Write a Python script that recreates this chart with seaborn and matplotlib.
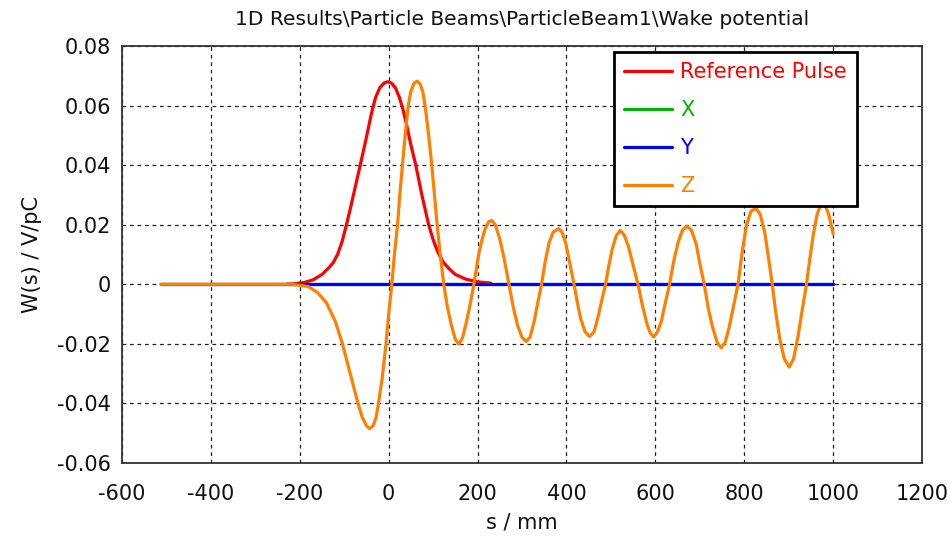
import matplotlib
matplotlib.use("Agg")
import matplotlib.pyplot as plt
import seaborn as sns
import pandas as pd

# ---------------- data ----------------
s_ref = [-230, -210, -190, -170, -150, -135, -125, -115, -105, -95, -85, -75,
         -64, -52, -40, -30, -20, -10, -2, 6, 15, 24, 32, 39, 50, 61, 74, 82,
         90, 100, 110, 122, 136, 150, 174, 200, 230]
w_ref = [0.0, 0.0002, 0.0006, 0.0015, 0.0033, 0.0055, 0.0072, 0.0100, 0.0142,
         0.0200, 0.0262, 0.0328, 0.0400, 0.0480, 0.0565, 0.0625, 0.0660,
         0.0676, 0.0680, 0.0676, 0.0660, 0.0628, 0.0588, 0.0545, 0.0468,
         0.0400, 0.0305, 0.0252, 0.0200, 0.0150, 0.0110, 0.0076, 0.0052,
         0.0033, 0.0017, 0.0008, 0.0004]

s_xy = [-513, 1000]
w_x = [0.0, 0.0]
w_y = [0.0, 0.0]

s_z = [-513, -300, -220, -200, -180, -160, -140, -120, -104, -90, -80, -69, -60,
       -50, -43, -35, -28, -23, -15, -6, 0, 7, 13, 20, 25, 31, 37, 44, 50, 57,
       64, 71, 77, 82, 90, 97, 103, 109, 116, 124, 132, 141, 150, 158, 166,
       175, 183, 190, 196, 202, 210, 217, 225, 232, 240, 250, 260, 270, 280,
       290, 300, 309, 318, 327, 335, 344, 352, 361, 370, 382, 390, 398, 407,
       417, 425, 432, 442, 452, 462, 472, 480, 488, 495, 503, 512, 521, 530,
       539, 550, 561, 570, 580, 588, 596, 604, 613, 622, 632, 641, 651, 661,
       671, 681, 692, 700, 710, 719, 729, 739, 748, 757, 766, 775, 786, 795,
       805, 815, 826, 836, 846, 854, 863, 871, 880, 890, 901, 911, 921, 930,
       940, 947, 955, 964, 974, 982, 990, 1000]
w_z = [0.0, 0.0, 0.0, -0.0003, -0.0008, -0.0028, -0.0062, -0.0125, -0.020,
       -0.028, -0.0337, -0.040, -0.0445, -0.0475, -0.0485, -0.0475, -0.0445,
       -0.040, -0.032, -0.020, -0.010, 0.0, 0.010, 0.020, 0.030, 0.040, 0.050,
       0.060, 0.0648, 0.0675, 0.0682, 0.0672, 0.0645, 0.060, 0.050, 0.040,
       0.030, 0.020, 0.010, 0.0, -0.0075, -0.0137, -0.0185, -0.0201, -0.0180,
       -0.0126, -0.007, -0.0014, 0.004, 0.0097, 0.015, 0.0186, 0.021, 0.0214,
       0.020, 0.0152, 0.0085, 0.0005, -0.0075, -0.0138, -0.0178, -0.0192,
       -0.0178, -0.0127, -0.0065, 0.0, 0.0075, 0.014, 0.0175, 0.0187, 0.0175,
       0.014, 0.0075, 0.0, -0.0065, -0.0116, -0.016, -0.0175, -0.016, -0.0104,
       -0.005, 0.0, 0.006, 0.0118, 0.0163, 0.0181, 0.0165, 0.0129, 0.0065,
       0.0, -0.0065, -0.0127, -0.0162, -0.0177, -0.0162, -0.0127, -0.0065,
       0.0, 0.0075, 0.014, 0.0182, 0.0195, 0.0182, 0.0135, 0.007, 0.0, -0.008,
       -0.0145, -0.0195, -0.0213, -0.0195, -0.0145, -0.008, 0.0, 0.0105,
       0.0198, 0.0245, 0.0255, 0.0235, 0.0175, 0.0095, 0.0, -0.0095, -0.0184,
       -0.025, -0.0278, -0.025, -0.0175, -0.009, 0.0, 0.008, 0.0164, 0.0235,
       0.0275, 0.0265, 0.0235, 0.017]

series_names = ["Reference Pulse", "X", "Y", "Z"]
series_colors = ["#ff0000", "#00b000", "#0000ff", "#ff8000"]

title = "1D Results\\Particle Beams\\ParticleBeam1\\Wake potential"
x_label = "s / mm"
y_label = "W(s) / V/pC"
x_ticks = [-600, -400, -200, 0, 200, 400, 600, 800, 1000, 1200]
y_ticks = [-0.06, -0.04, -0.02, 0, 0.02, 0.04, 0.06, 0.08]
y_tick_labels = ["-0.06", "-0.04", "-0.02", "0", "0.02", "0.04", "0.06", "0.08"]

# ---------------- plotting ----------------
sns.set_style("white")
plt.rcParams["font.family"] = ["DejaVu Sans"]

fig = plt.figure(figsize=(9.53, 5.38), dpi=100)
ax = fig.add_axes([0.128, 0.1394, 0.8395, 0.7751])

data = [(s_ref, w_ref), (s_xy, w_x), (s_xy, w_y), (s_z, w_z)]
handles = []
for (sx, wy), name, col in zip(data, series_names, series_colors):
    df = pd.DataFrame({"s": sx, "w": wy})
    sns.lineplot(data=df, x="s", y="w", ax=ax, color=col, linewidth=2.3,
                 sort=False, estimator=None, label=name, legend=False)
    handles.append(ax.lines[-1])

ax.set_xlim(-600, 1200)
ax.set_ylim(-0.06, 0.08)
ax.set_xticks(x_ticks)
ax.set_xticklabels([str(t) for t in x_ticks])
ax.set_yticks(y_ticks)
ax.set_yticklabels(y_tick_labels)
ax.tick_params(axis="both", direction="out", length=4, width=1, colors="#222222",
               labelsize=15, labelcolor="#111111")
ax.tick_params(axis="x", pad=11)
ax.tick_params(axis="y", pad=4)
ax.grid(True, color="#222222", linestyle=(0, (3, 3)), linewidth=0.9)
for sp in ax.spines.values():
    sp.set_color("#333333")
    sp.set_linewidth(1.3)

ax.set_xlabel(x_label, fontsize=15, color="#111111", labelpad=6)
ax.set_ylabel(y_label, fontsize=15, color="#111111", labelpad=11)
ax.set_title(title, fontsize=14.5, color="#111111", pad=15)

leg = ax.legend(handles=handles, labels=series_names, loc="upper right",
                bbox_to_anchor=(0.919, 0.986), fontsize=15, frameon=True,
                fancybox=False, framealpha=1, edgecolor="black",
                handlelength=2.3, labelspacing=0.86, borderpad=0.5,
                handletextpad=0.4, borderaxespad=0)
leg.get_frame().set_linewidth(2)
for txt, col in zip(leg.get_texts(), series_colors):
    txt.set_color(col)
leg.set_zorder(10)

fig.savefig("out.png", dpi=100)
